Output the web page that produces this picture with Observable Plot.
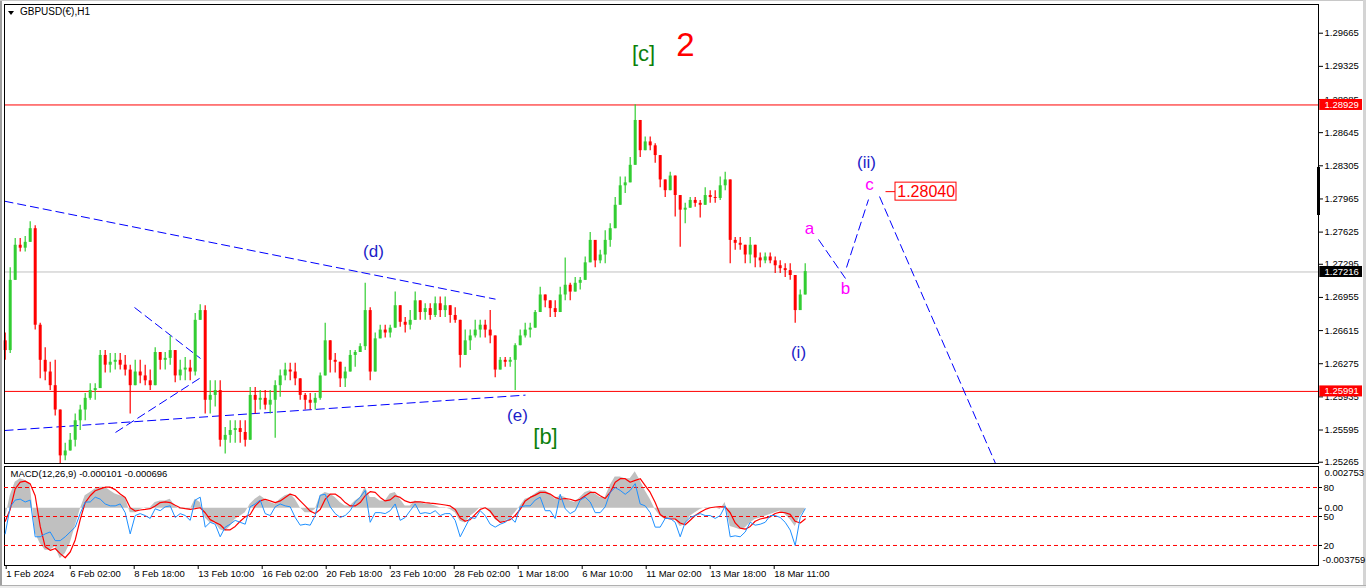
<!DOCTYPE html>
<html><head><meta charset="utf-8">
<script src="https://cdn.jsdelivr.net/npm/d3@7"></script>
<script src="https://cdn.jsdelivr.net/npm/@observablehq/plot@0.6"></script>
<style>
html,body{margin:0;padding:0;background:#fff;width:1366px;height:588px;overflow:hidden;position:relative;font-family:"Liberation Sans",Arial,sans-serif;}
.layer{position:absolute;left:0;}
#title{position:absolute;left:20px;top:6px;font-size:10px;color:#000;}
#tri{position:absolute;left:8px;top:11px;width:0;height:0;border-left:3.5px solid transparent;border-right:3.5px solid transparent;border-top:4px solid #000;}
</style></head><body>
<div id="gl" style="position:absolute;left:0;top:0;width:2px;height:588px;background:#a0a0a0"></div>
<div id="gt" style="position:absolute;left:0;top:0;width:1366px;height:1px;background:#c8c8c8"></div>
<div id="gr" style="position:absolute;left:1363px;top:0;width:3px;height:588px;background:#d4d4d4"></div>
<div id="gb" style="position:absolute;left:0;top:585px;width:1366px;height:3px;background:#ececec;border-top:1px solid #b0b0b0"></div>
<div id="main" class="layer" style="top:0"></div>
<div id="macd" class="layer" style="top:465px"></div>
<div id="stoch" class="layer" style="top:465px"></div>
<div id="tri"></div>
<div id="title"></div>
<script>
// ---------------- DATA ----------------
const symbolTitle = "GBPUSD(€),H1";
const macdTitle = "MACD(12,26,9) -0.000101 -0.000696";
const barsPerCandle = 5;           // each candle below summarises 5 hourly bars
const firstOpen = 1.2651;
const closes = [
1.2641,1.2713,1.2749,1.2746,1.2752,1.2766,1.2667,1.2631,1.2619,1.2605,
1.2580,1.2533,1.2538,1.2549,1.2569,1.2580,1.2592,1.2600,1.2602,1.2636,
1.2626,1.2629,1.2631,1.2626,1.2621,1.2605,1.2619,1.2615,1.2610,1.2605,
1.2639,1.2631,1.2633,1.2641,1.2615,1.2621,1.2623,1.2619,1.2672,1.2682,
1.2590,1.2595,1.2600,1.2549,1.2554,1.2559,1.2561,1.2557,1.2549,1.2595,
1.2590,1.2592,1.2585,1.2590,1.2605,1.2615,1.2621,1.2619,1.2612,1.2595,
1.2590,1.2587,1.2592,1.2615,1.2651,1.2631,1.2629,1.2612,1.2619,1.2636,
1.2639,1.2645,1.2682,1.2619,1.2653,1.2662,1.2659,1.2664,1.2687,1.2670,
1.2667,1.2672,1.2692,1.2680,1.2684,1.2677,1.2689,1.2682,1.2687,1.2677,
1.2672,1.2636,1.2651,1.2656,1.2662,1.2667,1.2662,1.2656,1.2621,1.2631,
1.2629,1.2631,1.2646,1.2656,1.2662,1.2664,1.2680,1.2698,1.2692,1.2684,
1.2680,1.2698,1.2708,1.2701,1.2710,1.2713,1.2731,1.2754,1.2733,1.2739,
1.2754,1.2766,1.2790,1.2810,1.2813,1.2831,1.2877,1.2846,1.2855,1.2851,
1.2841,1.2816,1.2805,1.2820,1.2800,1.2785,1.2787,1.2795,1.2792,1.2790,
1.2800,1.2798,1.2797,1.2810,1.2816,1.2754,1.2751,1.2749,1.2739,1.2749,
1.2736,1.2733,1.2737,1.2733,1.2728,1.2725,1.2723,1.2718,1.2682,1.2698,
1.2722];
const highs = [
1.2659,1.2726,1.2756,1.2756,1.2758,1.2773,1.2769,1.2669,1.2644,1.2629,
1.2631,1.2576,1.2546,1.2556,1.2576,1.2585,1.2597,1.2607,1.2607,1.2641,
1.2641,1.2638,1.2638,1.2638,1.2636,1.2626,1.2631,1.2631,1.2626,1.2621,
1.2644,1.2639,1.2639,1.2656,1.2641,1.2631,1.2634,1.2631,1.2679,1.2688,
1.2687,1.2610,1.2610,1.2610,1.2562,1.2569,1.2569,1.2569,1.2569,1.2603,
1.2603,1.2600,1.2600,1.2600,1.2610,1.2621,1.2628,1.2628,1.2628,1.2612,
1.2597,1.2597,1.2597,1.2618,1.2669,1.2638,1.2638,1.2624,1.2624,1.2641,
1.2641,1.2648,1.2710,1.2685,1.2659,1.2667,1.2667,1.2667,1.2701,1.2682,
1.2675,1.2682,1.2701,1.2689,1.2689,1.2689,1.2696,1.2696,1.2696,1.2685,
1.2685,1.2669,1.2662,1.2662,1.2672,1.2672,1.2672,1.2682,1.2641,1.2634,
1.2634,1.2634,1.2648,1.2662,1.2669,1.2669,1.2682,1.2706,1.2696,1.2692,
1.2692,1.2706,1.2736,1.2710,1.2716,1.2716,1.2737,1.2762,1.2754,1.2744,
1.2764,1.2771,1.2798,1.2819,1.2819,1.2839,1.2893,1.2877,1.2860,1.2860,
1.2853,1.2841,1.2816,1.2824,1.2820,1.2800,1.2792,1.2798,1.2798,1.2795,
1.2808,1.2805,1.2805,1.2819,1.2824,1.2816,1.2757,1.2757,1.2749,1.2757,
1.2749,1.2741,1.2741,1.2741,1.2737,1.2733,1.2730,1.2730,1.2718,1.2703,
1.2730];
const lows = [
1.2631,1.2638,1.2733,1.2742,1.2742,1.2754,1.2662,1.2612,1.2610,1.2600,
1.2574,1.2525,1.2528,1.2538,1.2542,1.2559,1.2569,1.2590,1.2590,1.2602,
1.2618,1.2618,1.2621,1.2621,1.2615,1.2576,1.2607,1.2607,1.2605,1.2600,
1.2605,1.2621,1.2621,1.2626,1.2608,1.2610,1.2610,1.2610,1.2615,1.2672,
1.2576,1.2576,1.2583,1.2542,1.2535,1.2546,1.2546,1.2546,1.2542,1.2549,
1.2576,1.2580,1.2580,1.2576,1.2551,1.2593,1.2610,1.2610,1.2605,1.2590,
1.2580,1.2580,1.2580,1.2590,1.2628,1.2618,1.2618,1.2603,1.2603,1.2624,
1.2624,1.2641,1.2641,1.2610,1.2619,1.2654,1.2654,1.2654,1.2672,1.2665,
1.2659,1.2662,1.2675,1.2672,1.2672,1.2672,1.2675,1.2675,1.2675,1.2669,
1.2669,1.2623,1.2641,1.2641,1.2654,1.2654,1.2654,1.2648,1.2613,1.2624,
1.2624,1.2624,1.2600,1.2646,1.2654,1.2654,1.2664,1.2680,1.2685,1.2675,
1.2675,1.2680,1.2692,1.2692,1.2701,1.2703,1.2713,1.2731,1.2726,1.2730,
1.2730,1.2747,1.2766,1.2790,1.2802,1.2813,1.2831,1.2839,1.2846,1.2846,
1.2833,1.2808,1.2798,1.2805,1.2778,1.2747,1.2771,1.2787,1.2788,1.2777,
1.2790,1.2792,1.2792,1.2795,1.2805,1.2730,1.2744,1.2744,1.2730,1.2730,
1.2726,1.2726,1.2730,1.2730,1.2720,1.2720,1.2716,1.2713,1.2669,1.2682,
1.2698];

// MACD main (histogram), MACD signal, and the 0-100 oscillator line
const macdMain = [
-0.00074,0.00083,0.00172,0.00195,0.00184,0.00161,-0.00164,-0.00231,-0.00276,-0.00276,
-0.00253,-0.00332,-0.00298,-0.00231,-0.00119,-0.00007,0.00083,0.00105,0.00128,0.00139,
0.00139,0.00116,0.00094,0.00083,0.00072,-0.00029,-0.00029,-0.00007,0.00004,0.00004,
0.00038,0.00049,0.00049,0.00060,0.00016,-0.00007,-0.00007,-0.00007,0.00060,0.00038,
-0.00063,-0.00096,-0.00096,-0.00141,-0.00152,-0.00119,-0.00074,-0.00052,-0.00029,0.00027,
0.00060,0.00083,0.00060,0.00038,0.00027,0.00060,0.00083,0.00094,0.00060,0.00004,
-0.00029,-0.00029,-0.00007,0.00083,0.00105,0.00094,0.00072,0.00038,0.00016,0.00016,
0.00049,0.00072,0.00139,0.00072,0.00072,0.00049,0.00049,0.00094,0.00105,0.00060,
0.00016,0.00016,0.00049,0.00038,0.00027,0.00027,0.00016,0.00004,0.00004,-0.00007,
-0.00029,-0.00085,-0.00096,-0.00052,-0.00029,0.00004,0.00004,-0.00029,-0.00074,-0.00096,
-0.00085,-0.00063,-0.00029,0.00016,0.00060,0.00072,0.00094,0.00116,0.00116,0.00094,
0.00060,0.00083,0.00072,0.00049,0.00038,0.00072,0.00105,0.00116,0.00094,0.00072,
0.00072,0.00150,0.00206,0.00206,0.00195,0.00195,0.00240,0.00184,0.00116,0.00060,
-0.00007,-0.00052,-0.00074,-0.00074,-0.00074,-0.00119,-0.00108,-0.00052,-0.00029,-0.00007,
0.00004,0.00004,0.00004,-0.00007,0.00038,-0.00119,-0.00130,-0.00141,-0.00130,-0.00096,
-0.00074,-0.00063,-0.00052,-0.00040,-0.00029,-0.00018,-0.00040,-0.00074,-0.00119,-0.00052,
-0.00010];
const macdSignal = [
-0.00085,-0.00007,0.00128,0.00172,0.00179,0.00161,0.00083,-0.00119,-0.00253,-0.00276,
-0.00264,-0.00298,-0.00325,-0.00287,-0.00208,-0.00074,0.00038,0.00083,0.00116,0.00128,
0.00139,0.00139,0.00123,0.00094,0.00072,0.00004,-0.00018,-0.00011,-0.00007,-0.00002,
0.00016,0.00038,0.00043,0.00038,0.00020,0.00004,-0.00002,-0.00007,-0.00002,0.00004,
-0.00029,-0.00074,-0.00092,-0.00108,-0.00141,-0.00141,-0.00119,-0.00085,-0.00056,-0.00040,
0.00016,0.00049,0.00060,0.00049,0.00038,0.00049,0.00072,0.00094,0.00083,0.00049,
0.00016,-0.00018,-0.00034,-0.00007,0.00060,0.00094,0.00094,0.00072,0.00038,0.00016,
0.00016,0.00038,0.00083,0.00110,0.00105,0.00072,0.00049,0.00056,0.00083,0.00072,
0.00049,0.00038,0.00043,0.00043,0.00038,0.00034,0.00031,0.00027,0.00022,0.00016,
-0.00007,-0.00063,-0.00085,-0.00074,-0.00040,-0.00007,0.00004,-0.00018,-0.00063,-0.00092,
-0.00085,-0.00074,-0.00047,-0.00007,0.00049,0.00072,0.00087,0.00105,0.00105,0.00094,
0.00072,0.00060,0.00065,0.00060,0.00049,0.00060,0.00083,0.00105,0.00105,0.00083,
0.00065,0.00105,0.00172,0.00195,0.00195,0.00172,0.00184,0.00195,0.00150,0.00105,
0.00038,-0.00040,-0.00063,-0.00070,-0.00070,-0.00096,-0.00108,-0.00078,-0.00047,-0.00025,
-0.00007,0.00004,0.00009,0.00011,0.00009,-0.00029,-0.00096,-0.00130,-0.00137,-0.00119,
-0.00085,-0.00070,-0.00063,-0.00056,-0.00034,-0.00025,-0.00029,-0.00040,-0.00085,-0.00096,
-0.00070];
const oscillator = [
32,60,67,68,65,67,29,29,32,34,
25,25,29,34,39,53,65,65,70,68,
63,61,61,63,54,32,51,53,51,48,
58,56,60,61,49,53,51,46,67,70,
39,44,42,29,39,42,46,44,42,60,
63,67,53,51,60,63,61,60,49,41,
42,41,51,72,73,60,53,49,51,56,
65,70,77,44,54,54,53,56,63,46,
49,56,63,53,54,53,56,51,53,53,
46,29,39,49,48,56,51,42,39,42,
44,49,44,60,61,61,67,70,56,56,
48,73,58,53,56,67,70,65,54,54,
60,75,80,77,73,77,84,63,61,54,
39,39,48,48,44,29,44,49,51,53,
51,51,48,51,61,29,30,29,34,44,
41,42,44,51,51,49,44,36,20,49,
58];

// price axis ticks, level lines, time axis
const priceTicks = [1.29665,1.29325,1.28985,1.28645,1.28305,1.27965,1.27625,1.27295,1.26955,1.26615,1.26275,1.25935,1.25595,1.25265];
const resistanceLevel = 1.28929;
const supportLevel = 1.25991;
const bidPrice = 1.27216;
const targetPrice = 1.28040;
const timeTickBars = [0,64,128,192,256,320,384,448,512,576,640,704,768];
const timeTickLabels = ["1 Feb 2024","6 Feb 02:00","8 Feb 18:00","13 Feb 10:00","16 Feb 02:00","20 Feb 18:00","23 Feb 10:00","28 Feb 02:00","1 Mar 18:00","6 Mar 10:00","11 Mar 02:00","13 Mar 18:00","18 Mar 11:00"];
const oscLevels = [80,50,20];
const macdAxisTicks = [0.002753, 0, -0.003759];

// wave labels (bar index, price)
const waveTexts  = ["[c]","2","(d)","(e)","[b]","(i)","(ii)","a","b","c"];
const waveBars   = [638.3,680.3,368.3,512.3,540.3,793.3,861.3,804.3,840.3,864.3];
const wavePrices = [1.29457,1.29539,1.27426,1.25744,1.25529,1.26390,1.28339,1.27662,1.27047,1.28113];
const waveDegree = ["primary","cycle","minor","minor","primary","minute","minute","sub","sub","sub"];

// dashed trend / projection lines: [bar1, price1, bar2, price2]
const trendLines = [
  [-0.7,1.27942,490.3,1.26937],
  [-0.7,1.25590,520.3,1.25953],
  [129.3,1.26852,195.3,1.26329],
  [110.3,1.25570,197.3,1.26144],
  [813.3,1.27549,840.3,1.27149],
  [841.3,1.27262,863.3,1.27959],
  [874.3,1.27990,990.3,1.25252]
];

// ---------------- BUILD ----------------
document.getElementById("title").textContent = symbolTitle;

const candles = closes.map((c,i)=>{
  const o = i ? closes[i-1] : firstOpen;
  return {bar:i*barsPerCandle, open:o, close:c, high:Math.max(highs[i],o,c), low:Math.min(lows[i],o,c)};
});
const candleColor = d => d.close > d.open ? "#32cd32" : d.close < d.open ? "#ff0000" : "#000000";
const ind = macdMain.map((m,i)=>({bar:i*barsPerCandle, main:m, signal:macdSignal[i], osc:oscillator[i]}));
const labels = waveTexts.map((t,i)=>({text:t, bar:waveBars[i], price:wavePrices[i], degree:waveDegree[i]}));
const lines = trendLines.map(([b1,p1,b2,p2])=>({b1,p1,b2,p2}));

const W = 1366, XDOM = [-0.7, 1313.3];
const font = "'Liberation Sans', Arial, sans-serif";
const pxPrice = 1/9750; // price per pixel on the main chart
const baseStyle = {background:"transparent", fontFamily:font, fontSize:"9px", color:"#000", overflow:"visible"};

const degColor = {primary:"#0b7f0b", cycle:"#ff0000", minor:"#1c1cc8", minute:"#1c1cc8", sub:"#ff00ff"};
const degSize = {primary:22, cycle:33, minor:17, minute:17, sub:17};

const tags = [
  {price:resistanceLevel, fill:"#ff0000"},
  {price:supportLevel, fill:"#ff0000"},
  {price:bidPrice, fill:"#000000"}
];

const main = Plot.plot({
  width: W, height: 466,
  marginLeft: 4, marginRight: 48, marginTop: 4, marginBottom: 3,
  style: baseStyle,
  x: {domain: XDOM, axis: null, label: null},
  y: {domain: [1.252517, 1.299594], axis: null, label: null},
  marks: [
    Plot.ruleY([bidPrice], {stroke:"#c0c0c0"}),
    Plot.ruleY([resistanceLevel, supportLevel], {stroke:"#ff0000"}),
    Plot.link(lines, {x1:"b1", y1:"p1", x2:"b2", y2:"p2", stroke:"#0000ff", strokeWidth:1, strokeDasharray:"9,4"}),
    Plot.ruleX(candles, {x:"bar", y1:"low", y2:"high", stroke:candleColor, strokeWidth:1.2}),
    Plot.ruleX(candles, {x:"bar", y1:"open", y2:"close", stroke:candleColor, strokeWidth:3}),
    Plot.text(labels, {x:"bar", y:"price", text:"text", fill:d=>degColor[d.degree], fontSize:d=>degSize[d.degree], fontFamily:font}),
    // target price tag
    Plot.link([targetPrice], {x1:880.3, x2:890.3, y1:d=>d, y2:d=>d, stroke:"#ff0000"}),
    Plot.rect([targetPrice], {x1:890.3, x2:951.3, y1:d=>d-9*pxPrice, y2:d=>d+9*pxPrice, fill:"#ffffff", stroke:"#ff0000"}),
    Plot.text([targetPrice], {x:921, y:d=>d, text:d=>d.toFixed(5), fill:"#ff0000", fontSize:16, fontFamily:font}),
    Plot.frame({stroke:"#000"}),
    Plot.axisY({anchor:"right", label:null, ticks:priceTicks, tickFormat:d=>d.toFixed(5), tickSize:4, tickPadding:2, fontSize:9.5}),
    Plot.rect(tags, {x1:1314.6, x2:1357.3, y1:d=>d.price-5.5*pxPrice, y2:d=>d.price+5.5*pxPrice, fill:"fill"}),
    Plot.text(tags, {x:1336.5, y:"price", text:d=>d.price.toFixed(5), fill:"#ffffff", fontSize:9.5, fontFamily:font}),
    Plot.ruleX([1313.3], {y1:1.28288, y2:1.27795, stroke:"#000", strokeWidth:3})
  ]
});
document.getElementById("main").appendChild(main);

const macdPlot = Plot.plot({
  width: W, height: 122,
  marginLeft: 4, marginRight: 48, marginTop: 1, marginBottom: 22,
  style: baseStyle,
  x: {domain: XDOM, axis: null, label: null},
  y: {domain: [-0.003759, 0.002753], axis: null, label: null},
  marks: [
    Plot.areaY(ind, {x:"bar", y:"main", fill:"#c0c0c0"}),
    Plot.line(ind, {x:"bar", y:"signal", stroke:"#ff0000", strokeWidth:1.2}),
    Plot.frame({stroke:"#000"}),
    Plot.text([macdTitle], {frameAnchor:"top-left", dx:6, dy:4, textAnchor:"start", lineAnchor:"top", fontSize:9.5, fill:"#000", fontFamily:font}),
    Plot.axisY([macdAxisTicks[0]], {anchor:"right", label:null, tickSize:0, tickPadding:6, dy:6, tickFormat:d=>d.toFixed(6), fontSize:9.5}),
    Plot.axisY([macdAxisTicks[1]], {anchor:"right", label:null, tickSize:3, tickPadding:3, tickFormat:d=>d.toFixed(2), fontSize:9.5}),
    Plot.axisY([macdAxisTicks[2]], {anchor:"right", label:null, tickSize:0, tickPadding:4, dy:-6, tickFormat:d=>d.toFixed(6), fontSize:9.5}),
    Plot.axisX({label:null, ticks:timeTickBars, tickFormat:d=>timeTickLabels[timeTickBars.indexOf(d)], tickSize:4, tickPadding:1, textAnchor:"start", dx:1, fontSize:9.5})
  ]
});
document.getElementById("macd").appendChild(macdPlot);

const oscPlot = Plot.plot({
  width: W, height: 122,
  marginLeft: 4, marginRight: 48, marginTop: 2.7, marginBottom: 22.7,
  style: baseStyle,
  x: {domain: XDOM, axis: null, label: null},
  y: {domain: [0, 100], axis: null, label: null},
  marks: [
    Plot.ruleY(oscLevels, {stroke:"#ff0000", strokeDasharray:"4,3"}),
    Plot.line(ind, {x:"bar", y:"osc", stroke:"#1e90ff", strokeWidth:1}),
    Plot.axisY({anchor:"right", label:null, ticks:oscLevels, tickSize:3, tickPadding:2, fontSize:9.5})
  ]
});
document.getElementById("stoch").appendChild(oscPlot);
</script>
</body></html>
